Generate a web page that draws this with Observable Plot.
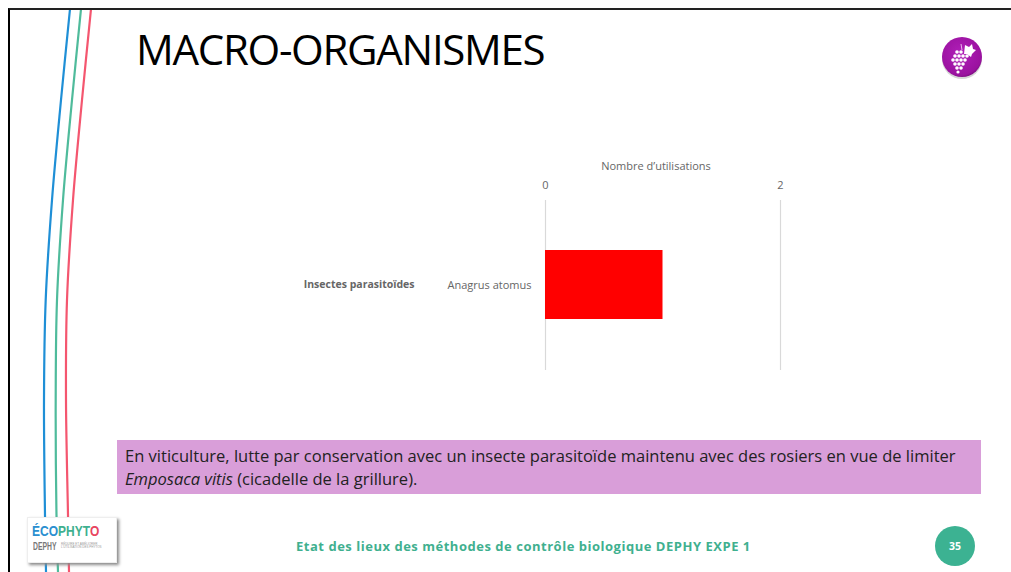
<!DOCTYPE html>
<html lang="fr">
<head>
<meta charset="utf-8">
<script src="https://cdn.jsdelivr.net/npm/d3@7"></script>
<script src="https://cdn.jsdelivr.net/npm/@observablehq/plot@0.6"></script>
<style>
html,body{margin:0;padding:0;background:#fff;width:1011px;height:572px;overflow:hidden;font-family:"Open Sans",sans-serif}
#page{position:relative;width:1011px;height:572px;overflow:hidden}
#page>*{position:absolute}
#frame{left:8px;top:8px;width:1003px;height:564px;border-left:2px solid #000;border-top:2px solid #222;box-sizing:border-box}
#title{left:136px;top:23px;font-size:42px;line-height:52px;letter-spacing:-1.3px;color:#000;white-space:nowrap}
#note{left:117px;top:440px;width:864px;height:54px;background:#d99ed9;box-sizing:border-box;padding:4px 8px;font-size:16.52px;line-height:23px;color:#222;white-space:nowrap}
#footer{left:296px;top:537px;font-size:13px;line-height:18px;font-weight:700;letter-spacing:.52px;color:#3fb08f;white-space:nowrap}
#num{left:935px;top:526px;width:40px;height:40px;border-radius:50%;background:#3cb292;color:#fff;font-size:10.5px;font-weight:700;line-height:40px;text-align:center}
#logo{left:27px;top:517px;width:90px;height:46px;background:#fff;box-shadow:2px 2px 3px #888;border:1px solid #eee;box-sizing:border-box}
#logo .a{position:absolute;left:4px;top:3px;font:700 15px/20px "Liberation Sans",sans-serif;color:#2b8fd0;white-space:nowrap;transform:scaleX(.8);transform-origin:0 0}
#logo .a b{color:#3fb08f}
#logo .a i{font-style:normal;color:#e8455f}
#logo .b{position:absolute;left:5px;top:23px;font:700 10px/12px "Liberation Sans",sans-serif;color:#777;white-space:nowrap;transform:scaleX(.68);transform-origin:0 0}
#logo .c{position:absolute;left:33px;top:25px;font:3px/3.4px "Liberation Sans",sans-serif;color:#999;white-space:nowrap}
svg.deco{left:0;top:0}
#chart{left:0;top:0}
</style>
</head>
<body>
<div id="page">
  <svg class="deco" id="curves" width="1011" height="572" fill="none" stroke-width="2.2"></svg>
  <div id="frame"></div>
  <div id="title">MACRO-ORGANISMES</div>
  <div id="chart"></div>
  <div id="note">En viticulture, lutte par conservation avec un insecte parasitoïde maintenu avec des rosiers en vue de limiter<br><i>Emposaca vitis</i> (cicadelle de la grillure).</div>
  <div id="logo"><div class="a">ÉCO<b>PHYT</b><i>O</i></div><div class="b">DEPHY</div><div class="c">RÉDUIRE ET AMÉLIORER<br>L’UTILISATION DES PHYTOS</div></div>
  <div id="footer">Etat des lieux des méthodes de contrôle biologique DEPHY EXPE 1</div>
  <div id="num">35</div>
  <svg class="deco" width="1011" height="572">
    <defs><radialGradient id="g" cx=".45" cy=".4" r=".65"><stop offset="0" stop-color="#b01fb8"/><stop offset=".85" stop-color="#9a129f"/><stop offset="1" stop-color="#6d0a72"/></radialGradient></defs>
    <circle cx="962" cy="59" r="20" fill="#bbb" opacity=".6"/>
    <circle cx="962" cy="57" r="20" fill="url(#g)"/>
    <g fill="#fff">
      <path d="M965 45l4 2 3-3 1 5 3 1-4 4-1 3-4-3-3 0z"/>
      <path d="M961 44l1 6" stroke="#e9b8ec" stroke-width="1" fill="none"/>
      <circle cx="957" cy="52" r="1.8"/><circle cx="961" cy="52" r="1.8"/>
      <circle cx="955" cy="56" r="1.8"/><circle cx="959" cy="56" r="1.8"/><circle cx="963" cy="56" r="1.8"/><circle cx="967" cy="56" r="1.8"/>
      <circle cx="953" cy="60" r="1.8"/><circle cx="957" cy="60" r="1.8"/><circle cx="961" cy="60" r="1.8"/><circle cx="965" cy="60" r="1.8"/>
      <circle cx="955" cy="64" r="1.8"/><circle cx="959" cy="64" r="1.8"/><circle cx="963" cy="64" r="1.8"/>
      <circle cx="957" cy="68" r="1.8"/><circle cx="961" cy="68" r="1.8"/>
      <circle cx="958" cy="72" r="1.6"/>
    </g>
  </svg>
</div>
<script>
const species = ["Anagrus atomus"];
const uses = [1];
const groupLabel = "Insectes parasitoïdes";
const xTicks = [0, 2];
const axisLabel = "Nombre d’utilisations";
const rows = species.map((s, i) => ({species: s, uses: uses[i], group: groupLabel}));
const grey = "#666";

// Decorative ribbon of the slide template.
const ribbonY = [9, 100, 200, 300, 400, 515, 572];
const ribbons = [
  {color: "#1f8fd6", xs: [70, 61, 52, 45.7, 44, 45, 46]},
  {color: "#4fbb9b", xs: [81, 72, 63, 57, 55.7, 56.5, 58]},
  {color: "#f4566f", xs: [91, 82, 73, 67, 66, 68, 69]}
];
const ribbonPath = d3.line().curve(d3.curveCatmullRom);
const curves = d3.select("#curves");
for (const r of ribbons) {
  curves.append("path").attr("stroke", r.color).attr("d", ribbonPath(r.xs.map((x, i) => [x, ribbonY[i]])));
}

const chart = Plot.plot({
  width: 1011, height: 572,
  marginLeft: 545, marginRight: 231, marginTop: 200, marginBottom: 202,
  style: {background: "transparent", fontFamily: "'Open Sans',sans-serif", fontSize: "11px", color: grey},
  x: {domain: [0, 2], axis: null},
  y: {domain: species, padding: 0.4167, axis: null},
  marks: [
    Plot.ruleX(xTicks, {stroke: "#d9d9d9", strokeWidth: 1.2}),
    Plot.barX(rows, {x: "uses", y: "species", fill: "#ff0000"}),
    Plot.axisX({anchor: "top", ticks: xTicks, tickFormat: "d", tickSize: 0, tickPadding: 12, label: null, fill: grey}),
    Plot.text([axisLabel], {frameAnchor: "top", dx: -7, dy: -38, fill: grey}),
    Plot.axisY({anchor: "left", tickSize: 0, tickPadding: 14, label: null, fill: grey}),
    Plot.text(rows, {x: 0, y: "species", text: "group", textAnchor: "end", dx: -131, fontSize: 10.5, fontWeight: 700, fill: grey})
  ]
});
document.getElementById("chart").appendChild(chart);
</script>
</body>
</html>
